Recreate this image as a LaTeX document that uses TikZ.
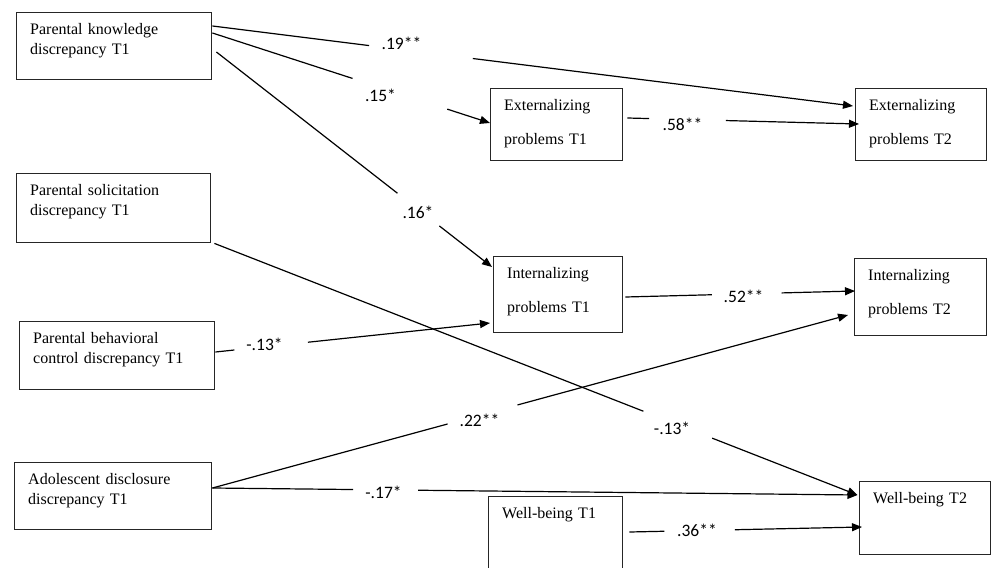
\documentclass[tikz,border=0pt]{standalone}
\usepackage{fontspec}
\setmainfont{Liberation Serif}
\newfontfamily\coeffont{Carlito}
\usetikzlibrary{arrows.meta,calc}

\begin{document}
\begin{tikzpicture}[x=1pt,y=-1pt,
  box/.style={draw=black!85,line width=1.4pt,anchor=north west,align=left,
    inner xsep=13.5pt,inner ysep=0pt,text height=22pt,
    font=\fontsize{16}{20}\selectfont},
  wide/.style={font=\fontsize{16}{33.5}\selectfont},
  coef/.style={font=\coeffont\fontsize{17.5}{20}\selectfont,inner sep=0pt},
  link/.style={line width=1.2pt,black},
  arr/.style={link,-{Triangle[length=10pt,width=8pt]}}]
\useasboundingbox (0,0) rectangle (992,567);
\clip (0,0) rectangle (992,567);

% predictors T1
\node[box,text width=168pt,text depth=45pt] (pk) at (16,12) {Parental knowledge\\discrepancy T1};
\node[box,text width=167pt,text depth=47pt] (ps) at (16,173) {Parental solicitation\\discrepancy T1};
\node[box,text width=168pt,text depth=46pt] (pbc) at (19,321) {Parental behavioral\\control discrepancy T1};
\node[box,text width=170pt,text depth=45pt] (ad) at (14,462) {Adolescent disclosure\\discrepancy T1};

% outcomes T1
\node[box,wide,text width=105pt,text depth=50pt] (ext1) at (490,88) {Externalizing\\problems T1};
\node[box,wide,text width=102pt,text depth=54pt] (int1) at (493,256) {Internalizing\\problems T1};
\node[box,text width=107pt,text depth=68pt] (wb1) at (488,496) {Well-being T1};

% outcomes T2
\node[box,wide,text width=104pt,text depth=50pt] (ext2) at (855,88) {Externalizing\\problems T2};
\node[box,wide,text width=105pt,text depth=55pt] (int2) at (854,258) {Internalizing\\problems T2};
\node[box,text width=104pt,text depth=51pt] (wb2) at (859,481) {Well-being T2};

% coefficients
\node[coef] (c19) at (401.5,43) {.19**};
\node[coef] (c15) at (380.5,95.5) {.15*};
\node[coef] (c16) at (418,212) {.16*};
\node[coef] (c58) at (682.5,124.5) {.58**};
\node[coef] (c13a) at (264.5,344.5) {-.13*};
\node[coef] (c52) at (743.5,296.5) {.52**};
\node[coef] (c22) at (479.5,420.5) {.22**};
\node[coef] (c13b) at (672,428) {-.13*};
\node[coef] (c17) at (383.5,492.5) {-.17*};
\node[coef] (c36) at (697,530) {.36**};

% ports
\coordinate (pk-o1) at ([shift={(0,14)}]pk.north east);
\coordinate (pk-o2) at ([shift={(0,21)}]pk.north east);
\coordinate (pk-o3) at ([shift={(4,40)}]pk.north east);
\coordinate (ps-o) at ([shift={(3,0)}]ps.south east);
\coordinate (pbc-o) at ([shift={(0,31)}]pbc.north east);
\coordinate (ad-o) at ([shift={(0,26)}]ad.north east);
\coordinate (ext1-i) at ([shift={(0,35)}]ext1.north west);
\coordinate (ext1-o) at ([shift={(4,30)}]ext1.north east);
\coordinate (int1-i1) at ([shift={(-1,11)}]int1.north west);
\coordinate (int1-i2) at ([shift={(-3,67)}]int1.north west);
\coordinate (int1-o) at ([shift={(2,41)}]int1.north east);
\coordinate (wb1-o) at ([shift={(6,36)}]wb1.north east);
\coordinate (ext2-i1) at ([shift={(-2,18)}]ext2.north west);
\coordinate (ext2-i2) at ([shift={(4,36)}]ext2.north west);
\coordinate (int2-i1) at ([shift={(1,33)}]int2.north west);
\coordinate (int2-i2) at ([shift={(-6,57)}]int2.north west);
\coordinate (wb2-i1) at ([shift={(-1.5,14)}]wb2.north west);
\coordinate (wb2-i3) at ([shift={(3,46)}]wb2.north west);

% paths, each broken round its coefficient
\draw[link] (pk-o1) -- ($(pk-o1)!.2445!(ext2-i1)$);
\draw[arr] ($(pk-o1)!.4065!(ext2-i1)$) -- (ext2-i1);
\draw[link] (pk-o2) -- ($(pk-o2)!.505!(ext1-i)$);
\draw[arr] ($(pk-o2)!.846!(ext1-i)$) -- (ext1-i);
\draw[link] (pk-o3) -- ($(pk-o3)!.657!(int1-i1)$);
\draw[arr] ($(pk-o3)!.809!(int1-i1)$) -- (int1-i1);
\draw[link] (ext1-o) -- ($(ext1-o)!.094!(ext2-i2)$);
\draw[arr] ($(ext1-o)!.425!(ext2-i2)$) -- (ext2-i2);
\draw[link] (pbc-o) -- ($(pbc-o)!.069!(int1-i2)$);
\draw[arr] ($(pbc-o)!.337!(int1-i2)$) -- (int1-i2);
\draw[link] (int1-o) -- ($(int1-o)!.377!(int2-i1)$);
\draw[arr] ($(int1-o)!.680!(int2-i1)$) -- (int2-i1);
\draw[link] (ps-o) -- ($(ps-o)!.667!(wb2-i1)$);
\draw[arr] ($(ps-o)!.774!(wb2-i1)$) -- (wb2-i1);
\draw[link] (ad-o) -- ($(ad-o)!.370!(int2-i2)$);
\draw[arr] ($(ad-o)!.480!(int2-i2)$) -- (int2-i2);
\draw[link] (ad-o) -- ($(ad-o)!.218!(wb2-i1)$);
\draw[arr] ($(ad-o)!.319!(wb2-i1)$) -- (wb2-i1);
\draw[link] (wb1-o) -- ($(wb1-o)!.150!(wb2-i3)$);
\draw[arr] ($(wb1-o)!.453!(wb2-i3)$) -- (wb2-i3);
\end{tikzpicture}
\end{document}
